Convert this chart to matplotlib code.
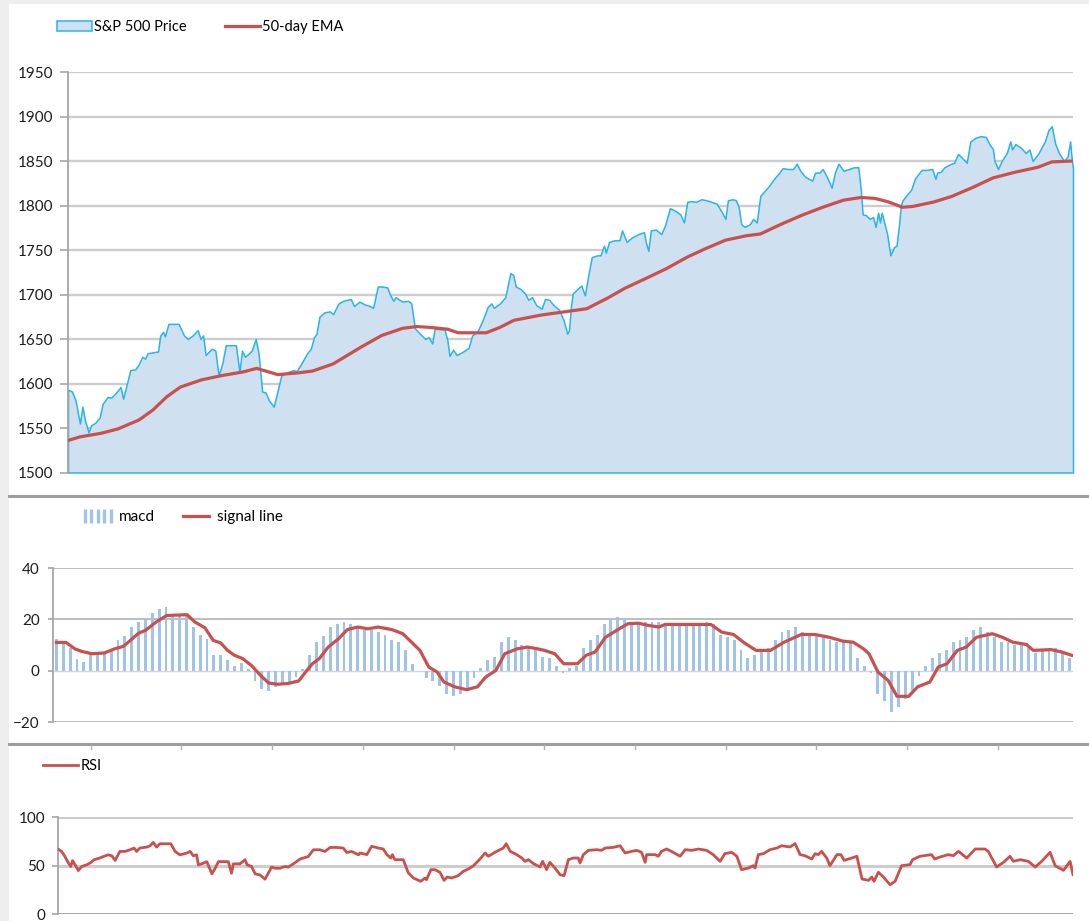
import matplotlib
matplotlib.use("Agg")
import matplotlib.pyplot as plt
from matplotlib.lines import Line2D
from matplotlib.patches import Rectangle
import numpy as np

plt.rcParams['font.family'] = ['Lato', 'DejaVu Sans']

# ---- data (x = trading-day position) ----
price_t = [0.0, 1.1, 2.1, 3.3, 4.0, 4.7, 5.7, 6.4, 7.6, 8.8, 9.6, 11.0, 12.0, 13.4, 14.6, 15.3, 16.0,
           17.3, 18.7, 19.7, 20.6, 21.4, 22.1, 23.5, 25.0, 25.6, 26.4, 26.9, 27.9, 29.3, 30.7, 32.2,
           33.2, 34.6, 36.0, 36.8, 37.5, 38.2, 38.9, 39.9, 40.9, 41.8, 42.8, 43.8, 45.2, 46.6, 47.6,
           48.3, 49.1, 50.0, 51.0, 52.1, 52.9, 53.9, 54.8, 55.8, 57.1, 58.2, 59.2, 60.1, 61.1, 62.6,
           63.5, 65.0, 66.4, 67.4, 68.3, 69.0, 69.8, 71.2, 72.7, 73.6, 75.1, 76.5, 78.5, 79.4, 80.9,
           82.3, 83.8, 84.7, 86.0, 87.1, 88.6, 89.5, 90.3, 91.0, 92.0, 92.9, 94.4, 95.3, 96.3, 97.7,
           99.2, 100.1, 101.1, 101.8, 103.0, 104.5, 105.3, 105.9, 106.9, 107.9, 109.3, 111.2, 112.2,
           113.6, 115.1, 116.5, 117.5, 118.2, 119.9, 121.4, 122.8, 123.6, 124.3, 125.7, 126.9, 127.8,
           128.8, 130.0, 131.5, 132.4, 133.6, 134.8, 136.3, 137.5, 138.6, 139.1, 139.6, 140.1, 141.6,
           142.5, 143.5, 144.5, 145.4, 146.9, 147.8, 148.8, 149.3, 150.2, 151.7, 153.1, 153.8, 155.1,
           156.5, 158.4, 159.9, 160.4, 161.1, 161.8, 163.2, 164.7, 165.7, 167.1, 168.6, 170.0, 171.0,
           171.9, 172.9, 174.3, 175.8, 177.2, 178.7, 180.1, 181.6, 182.5, 183.2, 184.5, 185.4, 186.2,
           186.9, 187.8, 189.3, 190.2, 191.2, 192.2, 193.1, 194.6, 196.0, 197.5, 198.4, 199.9, 201.3,
           202.3, 203.3, 204.7, 206.6, 207.4, 208.6, 209.5, 210.7, 212.0, 212.9, 213.9, 215.3, 216.8,
           218.2, 219.4, 220.1, 220.6, 221.6, 222.5, 223.5, 224.2, 224.9, 225.4, 225.9, 227.4, 228.3,
           229.3, 230.0, 230.7, 231.2, 231.7, 233.1, 234.1, 235.1, 236.0, 237.0, 238.4, 239.9, 240.8,
           241.3, 242.3, 243.3, 244.7, 246.0, 247.1, 248.1, 249.5, 250.5, 251.9, 253.4, 254.8, 255.8,
           256.8, 257.2, 258.2, 259.2, 260.6, 261.6, 262.1, 263.0, 264.5, 265.9, 266.9, 267.8, 269.3,
           271.2, 272.2, 273.1, 274.1, 275.1, 276.5, 277.5, 278.2, 278.7, 279.0]
price = [1593, 1591, 1581, 1555, 1574, 1559, 1545, 1553, 1556, 1562, 1577, 1585, 1584, 1590, 1596, 1583, 1594,
         1615, 1616, 1622, 1630, 1628, 1634, 1635, 1636, 1654, 1658, 1653, 1667, 1667, 1667, 1654,
         1650, 1654, 1660, 1650, 1654, 1632, 1635, 1639, 1637, 1609, 1622, 1643, 1643, 1643, 1613,
         1637, 1630, 1633, 1637, 1650, 1634, 1591, 1590, 1581, 1574, 1592, 1609, 1611, 1613, 1615,
         1614, 1624, 1634, 1639, 1652, 1656, 1675, 1680, 1681, 1678, 1690, 1693, 1695, 1687, 1692,
         1689, 1687, 1685, 1709, 1709, 1708, 1699, 1693, 1697, 1694, 1692, 1693, 1690, 1662, 1656,
         1650, 1652, 1645, 1662, 1661, 1661, 1649, 1631, 1638, 1632, 1635, 1640, 1654,
         1658, 1671, 1686, 1690, 1685, 1690, 1697, 1724, 1722, 1709, 1706, 1701, 1694,
         1697, 1688, 1684, 1695, 1694, 1688, 1683, 1672, 1656, 1660, 1686, 1701, 1707,
         1710, 1699, 1723, 1742, 1744, 1744, 1755, 1747, 1759, 1761, 1761, 1772, 1759,
         1764, 1768, 1770, 1759, 1749, 1772, 1773, 1768, 1777, 1797, 1794, 1790, 1781,
         1804, 1805, 1804, 1807, 1806, 1804, 1802, 1792, 1785, 1806, 1807, 1806, 1798,
         1779, 1776, 1779, 1785, 1781, 1811, 1815, 1822, 1830, 1837, 1842, 1841, 1841,
         1847, 1839, 1832, 1828, 1837, 1837, 1841, 1832, 1820, 1837, 1847, 1839, 1841,
         1843, 1843, 1817, 1790, 1789, 1785, 1787, 1776, 1792, 1781, 1792, 1768, 1744,
         1753, 1755, 1778, 1800, 1806, 1813, 1818, 1830, 1835, 1840, 1840, 1841, 1830,
         1837, 1838, 1843, 1846, 1848, 1858, 1854, 1848, 1872, 1876, 1878, 1877, 1869,
         1863, 1850, 1841, 1850, 1859, 1872, 1863, 1869, 1865, 1859, 1863, 1850, 1858,
         1872, 1885, 1889, 1869, 1859, 1850, 1855, 1872, 1850, 1842]

ema_t = [0, 3.3, 9.1, 13.9, 19.7, 23.5, 27.4, 31.2, 37.0, 42.8, 48.6, 52.4, 58.2, 64.0, 67.9, 73.6,
         81.4, 87.1, 92.9, 96.8, 100.6, 105.4, 108.3, 116.1, 119.9, 123.8, 131.5, 144.0, 149.8, 154.6,
         160.4, 166.1, 171.9, 176.7, 182.5, 188.3, 192.2, 198.0, 203.7, 209.5, 215.3, 220.1, 224.0,
         227.8, 231.7, 234.6, 240.4, 245.2, 251.0, 256.8, 262.5, 269.3, 273.1, 279.0]
ema = [1536, 1540, 1544, 1549, 1559, 1570, 1585, 1596, 1604, 1609, 1613, 1617, 1610, 1612, 1614, 1622,
       1641, 1654, 1662, 1664, 1663, 1661, 1657, 1657, 1663, 1671, 1677, 1684, 1696, 1707,
       1718, 1729, 1742, 1751, 1761, 1766, 1768, 1779, 1789, 1798, 1806, 1809, 1808,
       1804, 1798, 1799, 1804, 1810, 1820, 1831, 1837, 1843, 1849, 1850]

macd = [12.5, 11.5, 9, 4.5, 3.5, 6.5, 6.5, 7, 8, 12, 13.5, 17, 19, 20, 22.5, 24, 25, 21.5, 21.5, 21.5,
        17, 14, 12.5,
        6, 6, 4, 2, 3, 0.5, -4, -7, -8, -6.5, -5, -4.5, -2.5, 0.5, 6, 11, 13.5, 17, 18, 19, 18, 17,
        16, 16, 15, 14,
        12, 11, 8, 2.5, 0, -3, -4, -6, -9, -10, -9, -8, -3, 1, 4, 5.5, 11, 13, 12, 10, 9, 8,
        5.5, 5, 2, -1, 1, 2,
        9, 12, 14, 18, 20, 21, 20, 19, 19, 19, 19, 19, 18.5, 18.5, 18.5, 18.5, 18.5, 18.5, 19, 18,
        14, 13, 12, 8, 5, 6, 8, 9, 12, 15, 16, 17, 15, 14, 14, 13, 12, 11, 11, 11,
        5, 2, -1, -9, -12, -16, -14, -11, -8, -2, 2, 5, 7, 8, 11, 12, 13, 16, 17, 15, 13, 11, 11,
        10, 10, 9, 7, 8, 9, 9, 7, 5]

sig_k = [0, 1.4, 2.7, 3.7, 5.2, 7, 8.5, 9.8, 10.8, 12, 13, 14.6, 16.1, 19.1, 20.2, 21.7, 22.9, 24, 25,
         26, 27.2, 28.5, 29.8, 31, 32.3, 33.8, 35.4, 36.4, 37.4, 38.4, 39.7, 41.2, 42.5, 44, 45.5, 47,
         49, 50.6, 51.6, 53.1, 54.4, 55.6, 56.6, 58.2, 59.9, 61.5, 62.7, 64.2, 65.5, 67.3, 68.8, 70.3,
         71.3, 72.8, 74.1, 76.1, 77.4, 78.7, 80.2, 82.2, 83.5, 85, 86.5, 88, 88.9, 95.6, 97.2, 98.9,
         100.5, 102.2, 104.3, 106.3, 108.8, 110.8, 112.9, 114.9, 116.4, 117.9, 118.7, 120, 121.5,
         122.8, 124.5, 125.8, 127.6, 128.8, 130.1, 131.6, 132.9, 134.4, 136.7, 138.2, 139.7, 141.7,
         142.7, 145.3, 146.8, 148.3]
sig = [11, 11, 8.5, 7.5, 6.6, 6.9, 8.5, 9.5, 11.8, 14.6, 15.7, 19, 21.5, 21.8, 19, 16.7, 11.8, 10.8, 7.9,
       6, 4.7, 2, -1.8, -4.8, -5.3, -5, -4, -0.5, 2.7, 4.7, 9.2, 12.4, 16, 17, 16.3, 17,
       16, 14.4, 11.8, 7.9, 1.4, -0.5, -4.4, -6.3, -7.4, -6.3, -2.5, 0.1, 6.6, 8.5, 9.2, 8.5,
       7.9, 6.6, 2.7, 2.7, 6, 7.3, 13, 16.3, 18.3, 18.5, 17.6, 17, 18, 18, 15, 14.1,
       10.8, 7.9, 7.9, 11.1, 14.1, 14.1, 13, 11.5, 11.1, 8.5, 6.6, -0.5, -3.8,
       -10, -10, -6.3, -4.4, 1.4, 2.7, 7.9, 9.2, 13, 14.4, 13, 11.1, 10.2,
       7.9, 8.2, 7.3, 6]

rsi_t = [0, 1.0, 1.9, 2.8, 3.5, 4.0, 4.7, 5.6, 6.5, 7.9, 9.0, 9.9, 11.4, 12.5, 13.8, 14.8, 15.7, 17.0,
         18.4, 19.8, 20.9, 21.6, 22.5, 24.4, 25.3, 26.2, 27.1, 28.0, 29.9, 31.0, 32.2, 33.5, 35.4,
         36.3, 37.2, 38.1, 38.6, 39.5, 40.9, 42.3, 43.2, 44.1, 45.9, 46.8, 47.7, 48.2, 50.0, 51.4,
         52.0, 53.2, 54.2, 55.5, 56.9, 57.8, 58.7, 59.7, 61.0, 62.4, 63.3, 64.7, 66.5, 68.8, 70.2,
         72.0, 73.4, 74.8, 76.6, 78.4, 79.4, 80.7, 82.6, 83.0, 84.9, 86.2, 88.1, 89.4, 90.4, 91.5,
         91.9, 92.6, 94.9, 96.3, 97.7, 99.7, 100.9, 101.3, 102.5, 103.6, 105.0, 106.1, 107.0, 108.2,
         110.0, 111.4, 112.8, 114.2, 116.0, 117.4, 118.3, 120.1, 121.5, 122.4, 123.2, 124.3, 126.1,
         127.5, 128.4, 129.3, 130.7, 132.5, 133.2, 133.9, 134.3, 135.2, 136.6, 138.0, 139.1, 140.3,
         141.6, 143.0, 143.5, 144.4, 145.8, 148.1, 149.4, 150.4, 152.7, 154.5, 155.9, 157.7, 159.1,
         160.4, 161.4, 161.8, 164.1, 165.0, 165.9, 167.3, 169.1, 171.0, 172.4, 174.2, 176.0, 178.3,
         180.1, 182.0, 183.3, 185.2, 186.6, 187.9, 189.8, 191.1, 191.6, 192.5, 193.9, 195.7, 197.6,
         198.9, 201.2, 202.6, 204.0, 205.3, 207.2, 208.1, 209.0, 209.9, 211.3, 212.2, 214.1, 215.2,
         216.1, 218.2, 219.6, 221.0, 222.8, 223.7, 224.3, 225.5, 226.9, 228.7, 230.1, 231.9, 234.2,
         234.9, 236.9, 240.1, 241.0, 242.5, 244.7, 246.1, 247.5, 249.8, 252.1, 254.8, 255.7, 258.0,
         259.9, 261.7, 262.6, 264.5, 266.7, 268.6, 270.4, 272.7, 274.1, 276.4, 278.2, 279.0]
rsi = [66.9, 64.5, 59.3, 53, 49, 55, 50.7, 44.8, 49, 50.7, 53, 55.9, 57.6, 59.3, 61, 60, 55.2, 64.5,
       64.5, 66.2, 68, 64.5, 68, 69, 70.3, 73.8, 69, 72.4, 72.4, 72.4, 64.5, 61, 62.8,
       64.5, 60, 61, 50.7, 51.7, 54, 41.4, 47.2, 54, 54, 54, 42, 51.7, 51.7, 55.9,
       50.7, 49, 41.4, 40.3, 35.9, 42, 48.3, 47.2, 47.2, 49, 48.3, 51.7, 56.6, 59.3, 66.2,
       66.2, 64.5, 68.6, 68.6, 68, 63.4, 64.5, 61, 62.9, 61.2, 69.8, 68, 67, 61.2, 57.7,
       61.2, 56, 56, 42.3, 37.1, 33.7, 37.1, 35.4, 45.7, 45.7, 43, 34.7, 38.1, 37.1,
       39.5, 44, 46.4, 49.8, 56.7, 62.9, 59.5, 63.6, 66.3, 68, 72.5, 64.6, 61.2,
       57.7, 54.3, 56, 51.9, 48.5, 54.3, 49.1, 45.7, 53.3, 47.4, 40.5, 39.5, 56,
       57.7, 57.7, 52.6, 61.2, 65.6, 66.3, 65.6, 68, 68.7, 70.4, 62.9, 64.6, 65.6,
       63.6, 53.3, 61.2, 61.2, 59.5, 64.6, 67, 63.6, 59.5, 66.3, 65.6, 67, 65.6,
       61.2, 54.3, 62.2, 63.6, 59.5, 45.7, 47.4, 49.8, 47.4, 61.2, 62.2, 66.3, 68,
       70.4, 69.1, 72.5, 61.2, 60.1, 56.7, 62.2, 61.2, 64.6, 57.7, 49.8, 61.2, 61.2,
       55.3, 57.7, 59.5, 36.1, 34.7, 38.1, 33.7, 43, 38.1, 30.2, 33.7, 49.8, 50.9,
       56, 59.5, 61.2, 56.7, 58.8, 61.2, 60.1, 64.6, 57.7, 67, 67, 64.6, 48.5,
       53.3, 59.5, 54.3, 56, 54.3, 48.5, 54.3, 63.6, 49.8, 45, 54.3, 40.5]

# ---- colours ----
RED = '#c9504c'
AREA = '#cfe0f0'
EDGE = '#2ab4e8'
BARS = '#9fc4e8'
GRID = '#cdcdcd'
AXIS = '#a6a6a6'

W, H = 1089, 921
fig = plt.figure(figsize=(W / 100, H / 100), dpi=100)
fig.patch.set_facecolor('#eeeeee')
fig.add_artist(Rectangle((9 / W, 0), 1, 1 - 4 / H, transform=fig.transFigure,
                         facecolor='white', edgecolor='none', zorder=0))


def px_axes(left, top, right, bottom):
    return fig.add_axes([left / W, 1 - bottom / H, (right - left) / W, (bottom - top) / H])


def style(ax, length, pad):
    for s in ['top', 'right', 'bottom']:
        ax.spines[s].set_visible(False)
    ax.spines['left'].set_color(AXIS)
    ax.spines['left'].set_linewidth(1.3)
    ax.tick_params(axis='x', bottom=False, labelbottom=False)
    ax.tick_params(axis='y', colors=AXIS, labelcolor='#1e1e1e', labelsize=11,
                   length=length, width=1.2, pad=pad)
    ax.set_facecolor('none')


# price panel
ax1 = px_axes(68, 72, 1073, 472.5)
style(ax1, 5.8, 4.5)
ax1.set_xlim(0, 279)
ax1.set_ylim(1500, 1950)
ax1.set_yticks(np.arange(1500, 1951, 50))
for v in np.arange(1550, 1951, 50):
    ax1.axhline(v, color=GRID, lw=1.7, zorder=0.5)
ax1.fill_between(price_t, price, 1500, facecolor=AREA, edgecolor=EDGE, lw=1.1,
                 clip_on=False, label='S&P 500 Price', zorder=2)
ax1.plot(ema_t, ema, color=RED, lw=2.3, label='50-day EMA', zorder=3)
ax1.legend(loc='center left', bbox_to_anchor=(57 / W, 1 - 27 / H), bbox_transform=fig.transFigure,
           ncol=2, frameon=False, fontsize=10.5, handlelength=2.4, handleheight=0.75,
           handletextpad=0.15, columnspacing=2.6, borderpad=0, borderaxespad=0)

# macd panel
ax2 = px_axes(53, 568, 1073, 722)
style(ax2, 3.6, 6)
k = np.arange(len(macd))
ax2.set_xlim(-0.5, len(macd) - 0.5)
ax2.set_ylim(-20, 40)
ax2.set_yticks([-20, 0, 20, 40])
for v in (-20, 20, 40):
    ax2.axhline(v, color='#bdbdbd', lw=1.4, zorder=0.5)
ax2.axhline(0, color='#d6d6d6', lw=1.0, zorder=0.5)
ax2.bar(k, macd, width=0.42, color=BARS, zorder=2)
ax2.plot(sig_k, sig, color=RED, lw=2.3, zorder=3)
h_macd = Line2D([], [], ls='none', marker='|', ms=10, mew=2.4, color=BARS)
h_sig = Line2D([], [], color=RED, lw=2.3)
ax2.legend([h_macd, h_sig], ['macd', 'signal line'], numpoints=5, loc='center left',
           bbox_to_anchor=(80 / W, 1 - 517 / H), bbox_transform=fig.transFigure,
           ncol=2, frameon=False, fontsize=11, handlelength=2.3, handletextpad=0.25,
           columnspacing=1.5, borderpad=0, borderaxespad=0)

# rsi panel
ax3 = px_axes(58, 817, 1073, 914)
style(ax3, 4.3, 5)
ax3.set_xlim(0, 279)
ax3.set_ylim(0, 100)
ax3.set_yticks([0, 50, 100])
for v in (50, 100):
    ax3.axhline(v, color=GRID, lw=2.2, zorder=0.5)
ax3.axhline(0, color=AXIS, lw=1.4, zorder=0.5)
ax3.plot(rsi_t, rsi, color=RED, lw=2.0, label='RSI', zorder=3)
ax3.legend(loc='center left', bbox_to_anchor=(43 / W, 1 - 766 / H), bbox_transform=fig.transFigure,
           frameon=False, fontsize=10.5, handlelength=2.4, handletextpad=0.15,
           borderpad=0, borderaxespad=0)

# separators between the stacked charts
for y in (496, 744):
    fig.add_artist(Line2D([9 / W, 1], [1 - y / H] * 2, color='#9e9e9e', lw=2.2))
for n in range(1, 12):
    x = 90.7 * n / W
    fig.add_artist(Line2D([x, x], [1 - 745 / H, 1 - 749 / H], color='#b0b0b0', lw=1))

fig.savefig('out.png', dpi=100, facecolor=fig.get_facecolor())
